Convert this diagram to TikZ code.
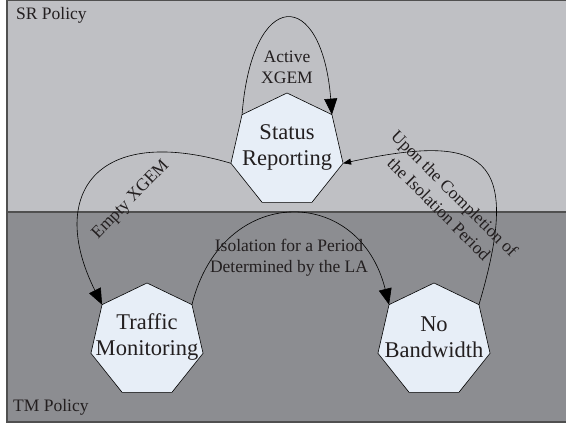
\documentclass[tikz,border=0pt]{standalone}
\usepackage{fontspec}
\setmainfont{Liberation Serif}
\usetikzlibrary{shapes.geometric,arrows.meta}
\definecolor{srband}{RGB}{191,192,196}
\definecolor{tmband}{RGB}{140,141,145}
\definecolor{statefill}{RGB}{231,238,247}
\definecolor{framecol}{RGB}{80,80,80}
\definecolor{txt}{RGB}{35,31,32}
\begin{document}
\begin{tikzpicture}[x=1pt,y=-1pt,
  state/.style={regular polygon, regular polygon sides=7, minimum size=115pt, inner sep=0pt, outer sep=0pt, draw=black, line width=0.6pt, fill=statefill},
  statetext/.style={font=\fontsize{22.5}{26}\selectfont, align=center, text=txt, inner sep=0pt},
  lbl/.style={font=\fontsize{17.5}{21}\selectfont, align=center, text=txt, inner sep=0pt},
  conn/.style={draw=black, line width=0.6pt},
  bigtip/.style={-{Triangle[length=16pt,width=13pt]}},
  smalltip/.style={-{Triangle[length=8pt,width=6pt]}}
]
\useasboundingbox (0,0) rectangle (566,425);
\fill[srband] (7,0) rectangle (566,212);
\fill[tmband] (7,212) rectangle (566,422);
\draw[framecol, line width=1.2pt] (566,0.6) -- (7,0.6) -- (7,422) -- (566,422);
\draw[framecol, line width=1.2pt] (7,212) -- (566,212);

\node[state] (sr) at (287,150.5) {};
\node[state] (tm) at (147,340.5) {};
\node[state] (nb) at (434,340.5) {};

\node[statetext, yshift=3pt] (srt) at (sr.center) {Status\\Reporting};
\node[statetext, yshift=3pt] (tmt) at (tm.center) {Traffic\\Monitoring};
\node[statetext, yshift=3pt] (nbt) at (nb.center) {No\\Bandwidth};

\draw[conn,bigtip] (sr.corner 2) .. controls +(10,-128) and +(-10,-128) .. (sr.corner 7);
\draw[conn,bigtip] (sr.corner 3) .. controls +(-135,-40) and +(-55,-110) .. (tm.corner 2);
\draw[conn,bigtip] (tm.corner 7) .. controls +(30,-121) and +(-30,-121) .. (nb.corner 2);
\draw[conn,smalltip] (nb.corner 7) .. controls +(45,-152) and +(140,-30) .. (sr.corner 6);

\node[lbl] (la) at (287,67) {Active\\XGEM};
\node[lbl, rotate=46] (le) at (131,200) {Empty XGEM};
\node[lbl] (li) at (289,258) {Isolation for a Period\\Determined by the LA};
\node[lbl, rotate=-45, font=\fontsize{17.5}{22}\selectfont] (lu) at (447,201) {Upon the Completion of\\the Isolation Period};
\node[lbl, anchor=base west] (srp) at (16,20) {SR Policy};
\node[lbl, anchor=base west] (tmp) at (13,412) {TM Policy};
\end{tikzpicture}
\end{document}
